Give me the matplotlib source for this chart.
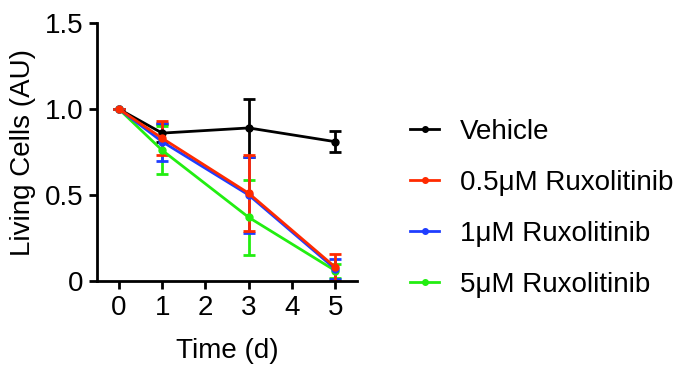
import numpy as np
import matplotlib.pyplot as plt

plt.rcParams['font.family'] = ['Liberation Sans', 'DejaVu Sans']

days = [0, 1, 3, 5]
labels = ['Vehicle', '0.5\u03bcM Ruxolitinib', '1\u03bcM Ruxolitinib', '5\u03bcM Ruxolitinib']
colors = ['black', '#ff2a00', '#1f3dff', '#22ee11']

vehicle = [1.0, 0.86, 0.89, 0.81]
vehicle_err = [0.0, 0.05, 0.17, 0.06]
rux_05 = [1.0, 0.83, 0.51, 0.08]
rux_05_err = [0.0, 0.10, 0.22, 0.08]
rux_1 = [1.0, 0.81, 0.50, 0.07]
rux_1_err = [0.0, 0.11, 0.22, 0.06]
rux_5 = [1.0, 0.76, 0.37, 0.06]
rux_5_err = [0.0, 0.14, 0.22, 0.04]

series = [vehicle, rux_05, rux_1, rux_5]
errs = [vehicle_err, rux_05_err, rux_1_err, rux_5_err]

fig = plt.figure(figsize=(6.8, 3.65), dpi=100)
ax = fig.add_axes([0.143, 0.23, 0.382, 0.707])

# draw order: vehicle, 5uM, 1uM, 0.5uM (red ends up on top)
for i in [0, 3, 2, 1]:
    ax.errorbar(days, series[i], yerr=errs[i], color=colors[i], lw=2,
                marker='o', ms=5, capsize=4, capthick=2, elinewidth=2,
                label=labels[i])

ax.set_xlim(-0.5, 5.5)
ax.set_ylim(0, 1.5)
ax.set_xticks([0, 1, 2, 3, 4, 5])
ax.set_yticks([0, 0.5, 1.0, 1.5])
ax.set_yticklabels(['0', '0.5', '1.0', '1.5'])
ax.spines['top'].set_visible(False)
ax.spines['right'].set_visible(False)
ax.spines['left'].set_linewidth(2)
ax.spines['bottom'].set_linewidth(2)
ax.tick_params(width=2, length=6, labelsize=20, pad=4)
ax.set_xlabel('Time (d)', fontsize=20, labelpad=12)
ax.set_ylabel('Living Cells (AU)', fontsize=20, labelpad=6)

leg_handles = [plt.Line2D([], [], color=c, lw=2, marker='o', ms=4) for c in colors]
fig.legend(leg_handles, labels, loc='center left', bbox_to_anchor=(0.603, 0.43),
           frameon=False, fontsize=20, handlelength=1.05, labelspacing=0.9,
           handletextpad=0.75, borderpad=0, borderaxespad=0)

fig.savefig('out.png', dpi=100)
